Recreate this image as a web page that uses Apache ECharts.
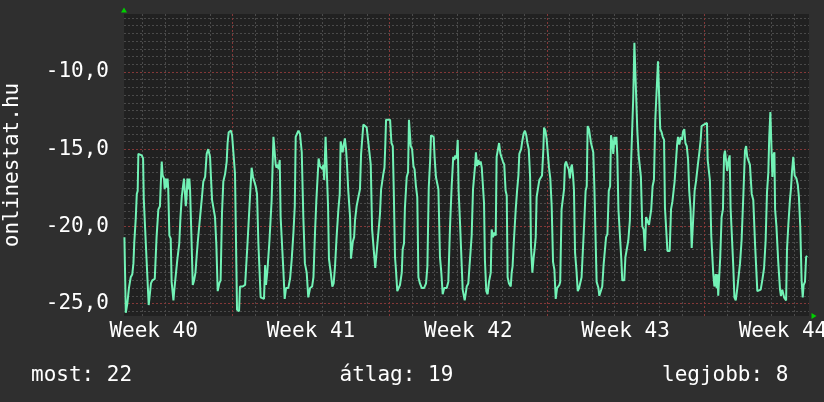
<!DOCTYPE html>
<html><head><meta charset="utf-8">
<script src="https://cdn.jsdelivr.net/npm/echarts@6/dist/echarts.min.js"></script>
<style>html,body{margin:0;padding:0;background:#2f2f2f;}#c{width:824px;height:402px;}</style>
</head><body><div id="c"></div>
<script>
// x = days since the start of week 40; y = negated rank
const segA_days = [2.20,2.26,2.33,2.40,2.48,2.55,2.60,2.64,2.70,2.75,2.79,2.82,2.89,2.97,3.03,3.06,3.13,3.18,3.25,3.28,3.34,3.38,3.44,3.55,3.61,3.63,3.71,3.78,3.83,3.86,3.90,3.96,3.99,4.04,4.08,4.12,4.15,4.20,4.26,4.30,4.38,4.42,4.50,4.55,4.64,4.69,4.75,4.79,4.85,4.90,4.93,4.97,5.00,5.04,5.09,5.12,5.18,5.24,5.30,5.36,5.41,5.47,5.56,5.65,5.71,5.79,5.86,5.93,6.01,6.05,6.10,6.17,6.23,6.29,6.35,6.42,6.48,6.54,6.60,6.68,6.75,6.79,6.84,6.94,6.99,7.05,7.12];
const segA_rank = [-20.7,-25.6,-25.0,-24.0,-23.3,-23.1,-22.4,-21.0,-19.6,-17.9,-17.7,-15.3,-15.2,-15.4,-15.6,-18.2,-18.2,-22.0,-22.0,-25.1,-25.0,-23.7,-23.5,-23.4,-23.3,-20.7,-18.9,-18.7,-16.8,-15.8,-16.7,-16.9,-17.6,-16.9,-17.5,-16.9,-17.6,-20.6,-20.8,-23.6,-24.8,-24.1,-24.0,-22.2,-21.1,-19.5,-18.1,-17.6,-16.9,-18.0,-18.7,-18.0,-16.9,-17.6,-16.9,-17.6,-20.6,-23.8,-23.5,-23.0,-22.0,-20.9,-19.5,-18.1,-17.1,-16.8,-15.3,-15.0,-15.5,-16.8,-18.3,-18.3,-19.4,-21.2,-24.2,-23.7,-23.5,-19.2,-17.1,-16.6,-15.8,-14.6,-13.9,-13.8,-14.1,-14.1,-16.6];
const segB_days = [7.21,7.30,7.34,7.45,7.57,7.64,7.68,7.74,7.79,7.83,7.86,7.92,7.98,8.04,8.10,8.16,8.20,8.26,8.41,8.46,8.50,8.56,8.60,8.65,8.69,8.75,8.80,8.83,8.90,8.93,8.97,9.02,9.06,9.11,9.15,9.23,9.27,9.33,9.39,9.49,9.57,9.64,9.72,9.78,9.82,9.88,9.94,10.01,10.09,10.16,10.23,10.31,10.38,10.46,10.55,10.61,10.68,10.74,10.80,10.84,10.90,10.95,11.01,11.05,11.09,11.15,11.21,11.26,11.30,11.38,11.45,11.51,11.57,11.64,11.72,11.78,11.82,11.87,11.91,11.96,12.01,12.06,12.10,12.16,12.24];
const segB_rank = [-25.4,-25.5,-23.9,-23.9,-23.8,-23.7,-21.0,-21.0,-18.0,-17.9,-16.2,-16.8,-17.1,-17.4,-17.9,-21.1,-21.2,-24.6,-24.7,-22.5,-23.8,-22.9,-22.9,-21.0,-21.0,-18.3,-18.3,-14.2,-14.2,-16.0,-16.2,-16.0,-16.3,-15.7,-19.4,-19.4,-22.8,-24.7,-24.0,-24.0,-23.4,-22.2,-20.4,-18.7,-14.2,-14.0,-13.8,-14.0,-15.2,-19.4,-22.4,-23.0,-24.6,-24.0,-23.9,-23.3,-20.4,-18.3,-18.2,-15.6,-16.1,-16.0,-16.3,-16.0,-17.0,-14.2,-14.2,-18.7,-22.1,-23.0,-23.9,-23.7,-22.6,-20.7,-18.9,-17.9,-14.5,-14.6,-15.2,-14.7,-14.3,-15.0,-15.9,-17.7,-19.4];
const segC_days = [12.28,12.36,12.42,12.46,12.53,12.61,12.68,12.73,12.79,12.83,12.90,12.98,13.05,13.10,13.16,13.22,13.28,13.32,13.36,13.42,13.50,13.57,13.62,13.68,13.72,13.77,13.81,13.84,14.02,14.08,14.14,14.18,14.24,14.28,14.34,14.39,14.46,14.54,14.58,14.64,14.68,14.76,14.82,14.86,14.91,14.94,15.00,15.06,15.11,15.17,15.23,15.28,15.35,15.43,15.53,15.62,15.68,15.74,15.80,15.84,15.92,15.96,16.00,16.06,16.12,16.17,16.24,16.30,16.36,16.43,16.54,16.61,16.69,16.76,16.83,16.88,16.92,16.98,17.03,17.07,17.13,17.21,17.25,17.34];
const segC_rank = [-22.1,-21.0,-20.7,-19.6,-18.7,-18.1,-17.6,-15.3,-15.2,-13.4,-13.4,-13.6,-13.6,-15.2,-16.0,-20.2,-20.2,-22.0,-22.7,-21.7,-20.4,-19.2,-17.6,-17.5,-16.6,-16.2,-14.6,-13.1,-13.1,-14.6,-14.8,-17.4,-22.0,-22.8,-24.2,-24.1,-23.8,-23.0,-21.5,-21.1,-18.8,-16.8,-16.5,-13.1,-13.1,-14.8,-15.0,-16.1,-16.3,-17.4,-18.1,-23.3,-23.7,-24.0,-24.0,-23.7,-22.6,-17.5,-15.8,-14.1,-14.1,-14.2,-15.5,-16.8,-16.9,-17.6,-22.0,-23.0,-24.4,-24.0,-24.0,-23.6,-19.9,-17.4,-15.5,-15.7,-15.4,-15.6,-14.4,-17.7,-19.7,-19.8,-24.1,-24.8];
const segD_days = [17.43,17.50,17.58,17.65,17.71,17.75,17.80,17.84,17.89,17.95,17.99,18.05,18.10,18.15,18.20,18.24,18.30,18.36,18.42,18.50,18.54,18.60,18.66,18.72,18.76,18.81,18.87,18.93,18.98,19.04,19.10,19.16,19.21,19.25,19.31,19.39,19.43,19.47,19.53,19.61,19.67,19.73,19.77,19.85,19.90,19.96,20.02,20.08,20.13,20.19,20.25,20.29,20.35,20.41,20.45,20.50,20.54,20.60,20.66,20.72,20.78,20.84,20.87,20.93,20.99,21.05,21.09,21.15,21.21,21.27,21.33,21.39,21.45,21.55,21.59,21.65,21.71,21.76,21.80,21.85,21.91,21.97,22.02,22.07,22.11,22.16,22.20,22.25,22.31,22.37,22.43];
const segD_rank = [-23.9,-23.7,-23.7,-20.6,-17.6,-17.5,-16.1,-15.2,-16.1,-15.7,-16.0,-15.8,-16.2,-16.3,-18.5,-22.2,-24.2,-24.4,-23.6,-23.0,-20.2,-20.7,-20.4,-20.6,-15.5,-15.4,-14.6,-15.3,-15.3,-15.8,-16.0,-17.7,-18.0,-23.3,-23.7,-23.9,-23.0,-22.6,-20.9,-18.9,-17.7,-16.7,-15.3,-15.0,-14.5,-14.0,-13.8,-14.1,-14.6,-15.0,-16.8,-21.3,-23.0,-22.0,-21.5,-20.7,-18.1,-18.0,-17.0,-16.9,-16.7,-15.0,-13.6,-13.8,-14.4,-14.5,-16.2,-16.9,-18.7,-22.3,-22.8,-24.7,-24.0,-23.8,-23.6,-18.9,-18.8,-17.6,-16.0,-15.8,-16.1,-16.3,-16.9,-16.2,-16.0,-16.7,-17.6,-21.7,-22.8,-24.2,-24.0];
const segE_days = [22.47,22.54,22.62,22.66,22.72,22.77,22.81,22.87,22.92,22.96,23.02,23.06,23.11,23.17,23.21,23.29,23.33,23.39,23.46,23.52,23.58,23.63,23.69,23.75,23.81,23.85,23.91,23.95,24.00,24.04,24.09,24.13,24.18,24.25,24.31,24.35,24.44,24.49,24.55,24.62,24.69,24.74,24.80,24.84,24.89,24.96,25.02,25.08,25.14,25.18,25.24,25.30,25.36,25.41,25.47,25.54,25.58,25.64,25.70,25.76,25.82,25.88,25.94,26.00,26.04,26.10,26.15,26.21,26.25,26.31,26.36,26.46,26.52,26.58,26.64,26.68,26.74,26.79,26.83,26.89,26.95,27.01,27.05,27.11,27.16,27.22,27.28,27.33,27.39,27.44,27.51,27.57,27.63];
const segE_rank = [-24.0,-23.3,-23.3,-19.7,-17.7,-17.4,-13.5,-13.7,-13.8,-14.6,-14.7,-15.2,-17.5,-17.5,-23.6,-24.0,-24.5,-24.5,-23.9,-22.5,-22.5,-20.7,-20.5,-17.7,-17.4,-14.1,-14.6,-15.3,-14.2,-14.7,-14.2,-15.4,-18.9,-18.9,-22.2,-23.5,-23.5,-22.0,-21.5,-20.9,-19.6,-16.0,-15.9,-11.6,-8.1,-8.1,-13.8,-15.4,-15.5,-16.8,-20.0,-20.2,-21.6,-19.4,-19.4,-19.9,-19.9,-18.9,-17.4,-17.0,-13.1,-13.0,-9.3,-9.3,-13.7,-13.9,-14.2,-14.4,-18.8,-18.9,-21.6,-21.6,-18.9,-18.4,-18.3,-17.1,-17.0,-14.7,-14.2,-14.7,-14.2,-14.4,-13.9,-13.7,-14.6,-14.8,-15.7,-17.7,-18.9,-21.4,-21.3,-17.7,-17.1];
const segF_days = [27.66,27.73,27.78,27.84,27.88,27.94,28.00,28.06,28.12,28.15,28.21,28.25,28.31,28.36,28.40,28.45,28.51,28.55,28.59,28.62,28.67,28.71,28.77,28.83,28.88,28.92,29.00,29.02,29.07,29.13,29.17,29.22,29.29,29.34,29.40,29.47,29.53,29.59,29.66,29.74,29.81,29.86,29.91,29.99,30.03,30.11,30.18,30.26,30.32,30.36,30.43,30.51,30.58,30.66,30.73,30.79,30.85,30.89,30.94,31.00,31.03,31.07,31.12,31.15,31.21,31.29,31.37,31.41,31.47,31.55,31.64,31.68,31.74,31.81,31.86,31.90,31.96,32.02,32.10,32.16,32.21,32.27,32.33,32.38,32.42,32.48,32.53,32.57];
const segF_rank = [-17.0,-15.8,-15.2,-14.4,-13.5,-13.4,-13.4,-13.3,-13.3,-15.7,-15.8,-17.0,-20.6,-20.7,-23.1,-23.9,-23.1,-24.0,-23.1,-24.5,-24.5,-22.0,-19.4,-18.9,-15.4,-15.1,-15.1,-16.4,-15.8,-15.4,-18.8,-18.9,-22.6,-24.6,-24.8,-24.0,-24.0,-22.4,-20.9,-17.9,-15.1,-14.8,-15.5,-15.4,-16.0,-17.9,-18.3,-21.2,-21.3,-24.2,-24.1,-24.1,-23.5,-22.7,-20.9,-17.8,-16.5,-14.2,-12.6,-12.6,-16.8,-15.4,-15.2,-18.9,-20.0,-22.3,-24.1,-24.5,-24.1,-24.6,-24.8,-21.5,-19.9,-18.3,-17.5,-16.5,-15.5,-16.7,-16.9,-17.3,-18.1,-20.0,-23.5,-24.6,-23.8,-23.6,-22.0,-21.9];

const yTickValues = [-25, -20, -15, -10];
const weekStarts = [7, 14, 21, 28];
const weekCenters = [3.5, 10.5, 17.5, 24.5, 31.5];
const weekLabels = ['Week 40', 'Week 41', 'Week 42', 'Week 43', 'Week 44'];
const footerTexts = ['most: 22', 'átlag: 19', 'legjobb: 8'];
const axisName = 'onlinestat.hu';

const X_MIN = 2.181, X_MAX = 32.659, Y_MIN = -25.81, Y_MAX = -6.24;

const days = [].concat(segA_days, segB_days, segC_days, segD_days, segE_days, segF_days);
const ranks = [].concat(segA_rank, segB_rank, segC_rank, segD_rank, segE_rank, segF_rank);
const lineData = days.map((d, i) => [d, ranks[i]]);

// grid helper values (minor lines: every day, every half unit)
const dayLines = [];
for (let d = Math.ceil(X_MIN); d <= X_MAX; d++) if (d % 7 !== 0) dayLines.push(d);
const halfLines = [];
for (let k = Math.ceil(Y_MIN * 2); k <= Math.floor(Y_MAX * 2); k++) if (k % 10 !== 0) halfLines.push(k / 2);

const FONT = 'DejaVu Sans Mono';
const FS = 21;
const GREEN = '#00d000';
const MINOR = {color: '#4a4a4a', width: 1, type: [2, 2], opacity: 1};
const MAJOR = {color: '#843838', width: 1, type: [2, 2], opacity: 1};

function gridSeries(xs, ys, style, z) {
  const segs = xs.map(v => ({coords: [[v, Y_MIN], [v, Y_MAX]]}))
    .concat(ys.map(v => ({coords: [[X_MIN, v], [X_MAX, v]]})));
  return {
    type: 'lines', coordinateSystem: 'cartesian2d', xAxisIndex: 0, yAxisIndex: 0,
    polyline: false, silent: true, z: z, animation: false,
    lineStyle: style, emphasis: {disabled: true}, data: segs
  };
}

const chart = echarts.init(document.getElementById('c'), null, {renderer: 'canvas'});
chart.setOption({
  backgroundColor: '#2f2f2f',
  animation: false,
  grid: {left: 124, top: 14, width: 685, height: 302, show: true, backgroundColor: '#212121', borderWidth: 0,
         containLabel: false, outerBoundsMode: 'none'},
  xAxis: [
    {type: 'value', position: 'bottom', min: X_MIN, max: X_MAX,
     axisLine: {show: true, onZero: false, lineStyle: {color: GREEN, width: 0}, symbol: ['none', 'triangle'], symbolSize: [6, 5], symbolOffset: [0, 5]},
     axisTick: {show: false},
     axisLabel: {show: true, customValues: weekCenters, color: '#ffffff', fontFamily: FONT, fontSize: FS, margin: 5,
       formatter: v => weekLabels[weekCenters.indexOf(v)] || ''},
     splitLine: {show: false}}
  ],
  yAxis: [
    {type: 'value', position: 'left', min: Y_MIN, max: Y_MAX,
     name: axisName, nameLocation: 'middle', nameRotate: 90, nameGap: 101,
     nameTextStyle: {color: '#ffffff', fontFamily: FONT, fontSize: FS},
     axisLine: {show: true, onZero: false, lineStyle: {color: GREEN, width: 0}, symbol: ['none', 'triangle'], symbolSize: [6, 5], symbolOffset: [0, 4]},
     axisTick: {show: false},
     axisLabel: {show: true, customValues: yTickValues, color: '#ffffff', fontFamily: FONT, fontSize: FS, margin: 15,
       formatter: v => v.toFixed(1).replace('.', ',')},
     splitLine: {show: false}}
  ],
  series: [
    gridSeries(dayLines, halfLines, MINOR, 1),
    gridSeries(weekStarts, yTickValues, MAJOR, 2),
    {type: 'line', xAxisIndex: 0, yAxisIndex: 0, data: lineData,
     showSymbol: false, symbol: 'none', clip: true,
     lineStyle: {color: '#72f2b6', width: 2}, z: 10}
  ],
  graphic: [
    {type: 'text', left: 31, top: 365, style: {text: footerTexts[0], fill: '#ffffff', font: FS + 'px "' + FONT + '"'}},
    {type: 'text', left: 339.5, top: 365, style: {text: footerTexts[1], fill: '#ffffff', font: FS + 'px "' + FONT + '"'}},
    {type: 'text', left: 662, top: 365, style: {text: footerTexts[2], fill: '#ffffff', font: FS + 'px "' + FONT + '"'}}
  ]
});
</script>
</body></html>
